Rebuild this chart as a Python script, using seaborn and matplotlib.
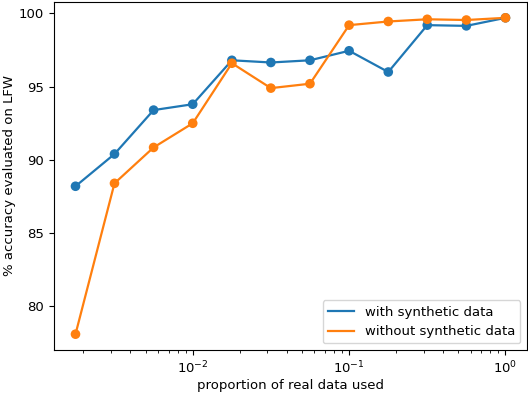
import numpy as np
import pandas as pd
import matplotlib
matplotlib.use("Agg")
import matplotlib.pyplot as plt
import seaborn as sns

# proportion of real data used (log-spaced steps of 10^0.25)
proportion = [0.00178, 0.00316, 0.00562, 0.01, 0.0178, 0.0316,
              0.0562, 0.1, 0.178, 0.316, 0.562, 1.0]
acc_with_synth = [88.2, 90.4, 93.4, 93.8, 96.8, 96.65,
                  96.8, 97.45, 96.0, 99.2, 99.15, 99.7]
acc_without_synth = [78.1, 88.4, 90.85, 92.5, 96.6, 94.9,
                     95.2, 99.2, 99.45, 99.6, 99.55, 99.7]

df = pd.DataFrame({
    "proportion": proportion * 2,
    "accuracy": acc_with_synth + acc_without_synth,
    "series": ["with synthetic data"] * len(proportion)
              + ["without synthetic data"] * len(proportion),
})

plt.rcParams["font.size"] = 9.5

fig, ax = plt.subplots(figsize=(5.28, 3.94), dpi=100)
fig.subplots_adjust(left=54 / 528, right=527 / 528, top=1 - 2 / 394, bottom=1 - 350 / 394)

palette = {"with synthetic data": "#1f77b4", "without synthetic data": "#ff7f0e"}

sns.lineplot(data=df, x="proportion", y="accuracy", hue="series",
             palette=palette, linewidth=1.6, ax=ax)
sns.scatterplot(data=df, x="proportion", y="accuracy", hue="series",
                palette=palette, s=48, linewidth=0, legend=False, ax=ax, zorder=3)

ax.set_xscale("log")
ax.set_xlabel("proportion of real data used", labelpad=2)
ax.set_ylabel("% accuracy evaluated on LFW", labelpad=2)
ax.legend(loc="lower right", title=None)

plt.savefig("out.png", dpi=100)
